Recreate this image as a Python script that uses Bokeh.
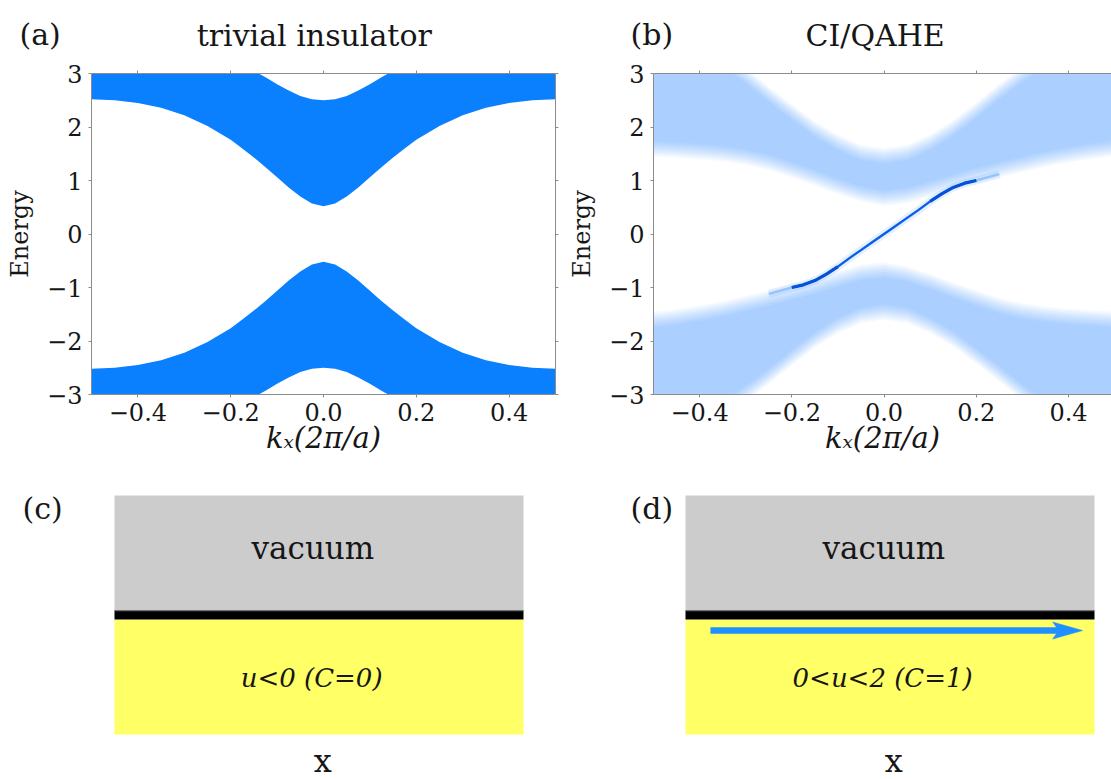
import numpy as np
from bokeh.plotting import figure
from bokeh.models import Label, LinearAxis, FixedTicker, Range1d
from bokeh.layouts import column, row
from bokeh.embed import file_html
from bokeh.resources import INLINE

SERIF = "DejaVu Serif"
FRAME = "#8c8c8c"
INK = "#161616"

# ---------------------------------------------------------------- data
k_ticks = [-0.4, -0.2, 0.0, 0.2, 0.4]
k_tick_labels = ["\u22120.4", "\u22120.2", "0.0", "0.2", "0.4"]
e_ticks = [-3, -2, -1, 0, 1, 2, 3]
e_tick_labels = ["\u22123", "\u22122", "\u22121", "0", "1", "2", "3"]

# (a) trivial insulator: band edges along k_x
k_triv = [-0.5, -0.45, -0.4, -0.35, -0.3, -0.25, -0.2, -0.175, -0.15, -0.125,
          -0.1, -0.075, -0.05, -0.025, 0.0, 0.025, 0.05, 0.075, 0.1, 0.125,
          0.15, 0.175, 0.2, 0.25, 0.3, 0.35, 0.4, 0.45, 0.5]
triv_cond_bottom = [2.52, 2.50, 2.45, 2.36, 2.22, 2.02, 1.76, 1.60, 1.43, 1.25,
                    1.06, 0.87, 0.70, 0.57, 0.52, 0.57, 0.70, 0.87, 1.06, 1.25,
                    1.43, 1.60, 1.76, 2.02, 2.22, 2.36, 2.45, 2.50, 2.52]
triv_cond_top = [3.90, 3.85, 3.75, 3.65, 3.55, 3.40, 3.30, 3.18, 3.05, 2.93,
                 2.80, 2.68, 2.58, 2.52, 2.50, 2.52, 2.58, 2.68, 2.80, 2.93,
                 3.05, 3.18, 3.30, 3.40, 3.55, 3.65, 3.75, 3.85, 3.90]
triv_val_top = [-2.52, -2.50, -2.45, -2.36, -2.22, -2.02, -1.76, -1.60, -1.43, -1.25,
                -1.06, -0.87, -0.70, -0.57, -0.52, -0.57, -0.70, -0.87, -1.06, -1.25,
                -1.43, -1.60, -1.76, -2.02, -2.22, -2.36, -2.45, -2.50, -2.52]
triv_val_bottom = [-3.90, -3.85, -3.75, -3.65, -3.55, -3.40, -3.30, -3.18, -3.05, -2.93,
                   -2.80, -2.68, -2.58, -2.52, -2.50, -2.52, -2.58, -2.68, -2.80, -2.93,
                   -3.05, -3.18, -3.30, -3.40, -3.55, -3.65, -3.75, -3.85, -3.90]

# (b) Chern insulator: broadened bulk bands and the chiral edge mode
k_ci = [-0.5, -0.45, -0.4, -0.35, -0.3, -0.25, -0.2, -0.15, -0.1, -0.05, 0.0,
        0.05, 0.1, 0.15, 0.2, 0.25, 0.3, 0.35, 0.4, 0.45, 0.5]
ci_cond_bottom = [1.45, 1.43, 1.40, 1.36, 1.30, 1.20, 1.06, 0.91, 0.75, 0.61, 0.53,
                  0.58, 0.70, 0.83, 0.95, 1.06, 1.16, 1.26, 1.34, 1.41, 1.46]
ci_cond_top = [3.70, 3.65, 3.55, 3.40, 3.10, 2.75, 2.42, 2.10, 1.85, 1.66, 1.60,
               1.66, 1.85, 2.12, 2.45, 2.80, 3.12, 3.40, 3.58, 3.68, 3.72]
ci_val_top = [-1.46, -1.41, -1.34, -1.26, -1.16, -1.06, -0.95, -0.83, -0.70, -0.58, -0.53,
              -0.61, -0.75, -0.91, -1.06, -1.20, -1.30, -1.36, -1.40, -1.43, -1.45]
ci_val_bottom = [-3.72, -3.68, -3.58, -3.40, -3.12, -2.80, -2.45, -2.12, -1.85, -1.66, -1.60,
                 -1.66, -1.85, -2.10, -2.42, -2.75, -3.10, -3.40, -3.55, -3.65, -3.70]
k_edge = [-0.25, -0.2, -0.175, -0.15, -0.125, -0.1, -0.075, -0.05, -0.025, 0.0,
          0.025, 0.05, 0.075, 0.1, 0.125, 0.15, 0.175, 0.2, 0.25]
e_edge = [-1.12, -1.00, -0.95, -0.87, -0.75, -0.61, -0.45, -0.30, -0.15, 0.00,
          0.15, 0.30, 0.45, 0.61, 0.75, 0.87, 0.95, 1.00, 1.12]

# (c)/(d) slab: material, boundary, vacuum (heights in slab units)
slab_names = ["material", "boundary", "vacuum"]
slab_bottom = [0.0, 1.0, 1.078]
slab_top = [1.0, 1.078, 2.078]
slab_colors = ["#ffff66", "#000000", "#cccccc"]
phase_texts = ["u<0 (C=0)", "0<u<2 (C=1)"]
edge_current = [0.061, 0.971]          # start / tip along x
edge_current_level = 0.904

# ---------------------------------------------------------------- layout constants
HEADER_H = 58
LOWER_TOP = 470                      # page row where the slab panels begin
PLOT_H = LOWER_TOP - HEADER_H        # band panels, frame from y=73 to y=394
LOWER_H = 779 - LOWER_TOP
LEFT_W, RIGHT_W = 565, 546
PPK_A, PPK_B = 464.0, 460.6          # px per unit k_x
FRAME_A_LEFT, FRAME_B_LEFT = 91.0, 653.5
LIFT = 0.35                          # baseline correction, in em


def style_axis(ax, show_labels=True):
    ax.axis_line_color = FRAME
    ax.axis_line_width = 1
    ax.major_tick_line_color = FRAME
    ax.major_tick_out = 3
    ax.major_tick_in = 0
    ax.minor_tick_line_color = None
    ax.major_label_text_font = SERIF
    ax.major_label_text_color = INK
    if show_labels:
        ax.major_label_text_font_size = "24px"
        ax.major_label_standoff = 6
    else:
        ax.major_label_text_font_size = "1px"
        ax.major_label_text_color = None
        ax.major_label_standoff = 0


def clean(p):
    p.outline_line_color = None
    p.grid.visible = False
    p.background_fill_color = "white"
    p.border_fill_color = "white"
    return p


def band_figure(width, x_end, left, right, with_right_axis):
    p = figure(width=width, height=PLOT_H, x_range=(-0.5, x_end), y_range=(-3, 3),
               output_backend="svg", toolbar_location=None,
               min_border_left=left, min_border_right=right,
               min_border_top=73 - HEADER_H, min_border_bottom=LOWER_TOP - 394)
    clean(p)
    xa, ya = p.xaxis[0], p.yaxis[0]
    xa.ticker = FixedTicker(ticks=k_ticks)
    xa.major_label_overrides = dict(zip(k_ticks, k_tick_labels))
    ya.ticker = FixedTicker(ticks=e_ticks)
    ya.major_label_overrides = dict(zip([float(t) for t in e_ticks], e_tick_labels))
    style_axis(xa)
    style_axis(ya)
    xa.major_label_standoff = 5
    xa.axis_label = "k\u2093(2\u03c0/a)"
    xa.axis_label_text_font = SERIF
    xa.axis_label_text_font_size = "29px"
    xa.axis_label_text_font_style = "italic"
    xa.axis_label_text_color = INK
    xa.axis_label_standoff = -3
    ya.axis_label = "Energy"
    ya.axis_label_text_font = SERIF
    ya.axis_label_text_font_size = "24px"
    ya.axis_label_text_font_style = "normal"
    ya.axis_label_text_color = INK
    ya.axis_label_standoff = 10
    top = LinearAxis(ticker=FixedTicker(ticks=k_ticks))
    style_axis(top, False)
    p.add_layout(top, "above")
    if with_right_axis:
        rt = LinearAxis(ticker=FixedTicker(ticks=e_ticks))
        style_axis(rt, False)
        p.add_layout(rt, "right")
    return p


def strip_figure(width, height, x_range, y_range):
    p = figure(width=width, height=height, x_range=x_range, y_range=y_range,
               output_backend="svg", toolbar_location=None,
               x_axis_location=None, y_axis_location=None,
               min_border_left=0, min_border_right=0,
               min_border_top=0, min_border_bottom=0)
    return clean(p)


def add_text(p, x, py, to_y, text, size, style="normal", align="center"):
    """Place text whose baseline sits at page row py."""
    y = to_y(py - LIFT * size)
    p.add_layout(Label(x=x, y=y, text=text, text_font=SERIF,
                       text_font_size=f"{size}px", text_font_style=style,
                       text_align=align, text_baseline="alphabetic",
                       text_color=INK))


def same(py):
    return py


# ---------------------------------------------------------------- headers
def header(width, frame_left, ppk, tag, tag_px, title):
    x0 = -0.5 - frame_left / ppk
    h = strip_figure(width, HEADER_H, Range1d(x0, x0 + width / ppk),
                     Range1d(HEADER_H, 0))
    add_text(h, -0.02, 45, same, title, 30)
    add_text(h, -0.5 + (tag_px - frame_left) / ppk, 44, same, tag, 30, align="left")
    return h


ha = header(LEFT_W, FRAME_A_LEFT, PPK_A, "(a)", 19, "trivial insulator")
hb = header(RIGHT_W, FRAME_B_LEFT - LEFT_W, PPK_B, "(b)", 630 - LEFT_W, "CI/QAHE")

# ---------------------------------------------------------------- (a)
pa = band_figure(LEFT_W, 0.5, 91, 10, True)
pa.varea(x=k_triv, y1=triv_cond_bottom, y2=triv_cond_top, fill_color="#0a80ff")
pa.varea(x=k_triv, y1=triv_val_bottom, y2=triv_val_top, fill_color="#0a80ff")

# ---------------------------------------------------------------- (b)
pb = band_figure(RIGHT_W, -0.5 + (1111 - FRAME_B_LEFT) / PPK_B, 88, 0, False)
kb = np.array(k_ci)
for lo, hi in [(np.array(ci_cond_bottom), np.array(ci_cond_top)),
               (np.array(ci_val_bottom), np.array(ci_val_top))]:
    width = hi - lo
    for i in range(9):
        inset = np.minimum(i * 0.035, 0.42 * width)
        pb.varea(x=kb, y1=lo + inset, y2=hi - inset,
                 fill_color="#2b83ff", fill_alpha=0.05)
ke, ee = np.array(k_edge), np.array(e_edge)
pb.line(ke, ee, line_width=8, line_color="#2b83ff", line_alpha=0.12)
pb.line(ke, ee, line_width=2.4, line_color="#2b83ff", line_alpha=0.35)
core = np.abs(ke) <= 0.2
pb.line(ke[core], ee[core], line_width=2.2, line_color="#0a5fe6")
left, right = (ke <= -0.1) & core, (ke >= 0.1) & core
pb.multi_line(xs=[list(ke[left]), list(ke[right])], ys=[list(ee[left]), list(ee[right])],
              line_width=3.2, line_color="#0552d6")

# ---------------------------------------------------------------- (c), (d)
SLAB_PX = 115.0
SLAB_BASE = 734          # page y of the slab's lower edge


def slab_y(py):
    return (SLAB_BASE - py) / SLAB_PX


def slab_figure(width, page_left, slab_left):
    xr = Range1d((page_left - slab_left) / 409, (page_left + width - slab_left) / 409)
    yr = Range1d(slab_y(779), slab_y(LOWER_TOP))
    p = strip_figure(width, LOWER_H, xr, yr)
    p.quad(left=[0] * 3, right=[1] * 3, bottom=slab_bottom, top=slab_top,
           fill_color=slab_colors, line_color=None)
    p.segment(x0=[0], y0=[slab_top[1]], x1=[1], y1=[slab_top[1]],
              line_color="#6e6e6e", line_width=1.2)
    add_text(p, 0.485, 558, slab_y, "vacuum", 31)
    add_text(p, 0.509, 772, slab_y, "x", 32)
    return p


pc = slab_figure(LEFT_W, 0, 114)
add_text(pc, 0.482, 687, slab_y, phase_texts[0], 26, "italic")
add_text(pc, (22 - 114) / 409, 518, slab_y, "(c)", 30, align="left")

pd = slab_figure(RIGHT_W, LEFT_W, 685)
add_text(pd, 0.482, 687, slab_y, phase_texts[1], 26, "italic")
add_text(pd, (630 - 685) / 409, 518, slab_y, "(d)", 30, align="left")

# chiral edge current along the boundary
head_len, head_half, notch = 30 / 409, 8.5 / SLAB_PX, 6 / 409
x0, tip = edge_current
yc = edge_current_level
pd.segment(x0=[x0], y0=[yc], x1=[tip - head_len + notch], y1=[yc],
           line_width=6.5, line_color="#1e90ff", line_cap="butt")
pd.patch(x=[tip, tip - head_len, tip - head_len + notch, tip - head_len],
         y=[yc, yc + head_half, yc, yc - head_half],
         fill_color="#1e90ff", line_color="#1e90ff", line_width=0.5)

layout = column(row(ha, hb), row(pa, pb), row(pc, pd))
open("out.html", "w").write(file_html(layout, INLINE))
